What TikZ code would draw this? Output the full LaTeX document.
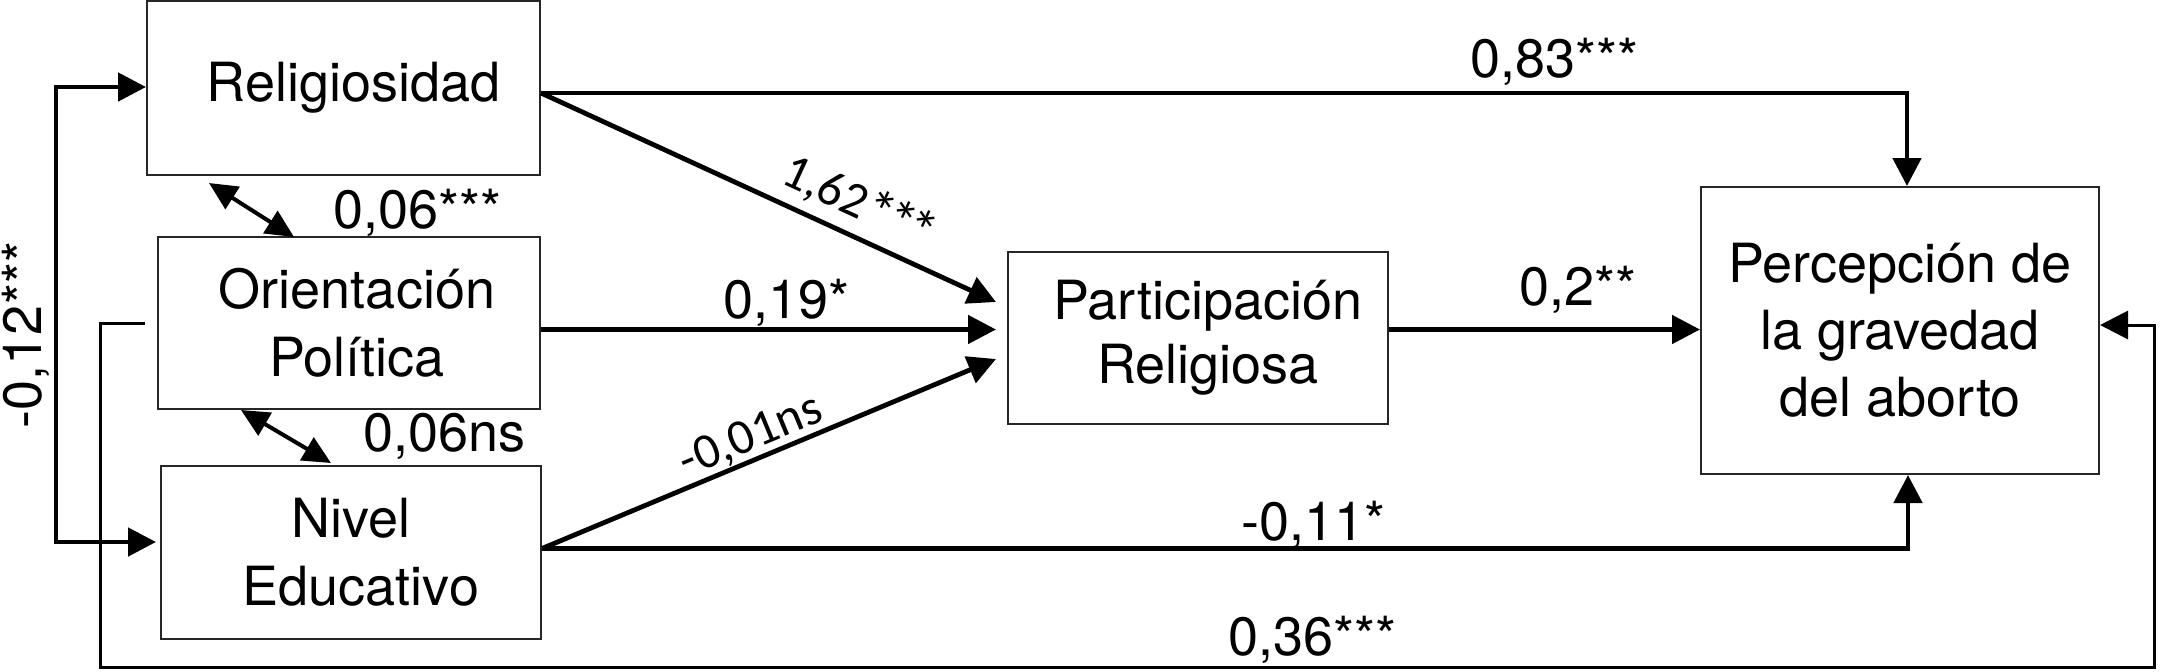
\documentclass[tikz,border=0pt]{standalone}
\usepackage{fontspec}
\setmainfont{TeX Gyre Heros}
\newfontfamily\carl{Carlito}
\usetikzlibrary{arrows.meta,calc}
\newcommand{\bigstars}{{\fontsize{29pt}{29pt}\selectfont\raisebox{-2pt}{*\kern-3pt*\kern-3pt*}}}
\begin{document}
\begin{tikzpicture}[x={(0.5pt,0)},y={(0,-0.5pt)},
  box/.style={draw=black!85,line width=1pt,inner sep=0pt,align=center,font=\fontsize{27pt}{34pt}\selectfont},
  lab/.style={inner sep=0pt,text depth=0pt,font=\fontsize{27pt}{32pt}\selectfont},
  slab/.style={inner sep=0pt,font=\carl\fontsize{25pt}{28pt}\selectfont},
  arr/.style={line width=2.4pt,-{Triangle[length=14pt,width=14pt]}},
  thin arr/.style={line width=1.5pt,-{Triangle[length=14pt,width=14pt]}},
  dbl/.style={line width=2pt,{Triangle[length=14pt,width=13pt]}-{Triangle[length=14pt,width=13pt]}}]
\useasboundingbox (0,0) rectangle (2160,671);
% boxes
\node[box,minimum width=196.5pt,minimum height=87pt] (rel) at (343.5,88) {\hspace*{10pt}Religiosidad};
\node[box,minimum width=191pt,minimum height=86pt] (op) at (349,323) {\hspace*{8pt}Orientación\\\hspace*{8pt}Política};
\node[box,minimum width=190pt,minimum height=86.5pt] (ne) at (351,552.5) {Nivel\\\hspace*{10pt}Educativo};
\node[box,minimum width=190pt,minimum height=86pt,font=\fontsize{27pt}{32pt}\selectfont] (pr) at (1198,338) {\hspace*{10pt}Participación\\\hspace*{10pt}Religiosa};
\node[box,minimum width=199pt,minimum height=143.5pt,font=\fontsize{27pt}{33.5pt}\selectfont] (pg) at (1900,330.5) {Percepción de\\la gravedad\\del aborto};
% helper coordinates
\coordinate (cl) at (56,300);
\coordinate (fb1) at (100,667);
\coordinate (fb2) at (2154,667);
% connectors
\draw[arr] ([yshift=-2.5pt]rel.east) -| ([xshift=3.5pt]pg.north);
\draw[arr] ([yshift=-2.5pt]rel.east) -- ([xshift=-5.5pt,yshift=18pt]pr.west);
\draw[arr] ([yshift=-3.25pt]op.east) -- ([xshift=-5.5pt,yshift=4.25pt]pr.west);
\draw[arr] ([yshift=2pt]ne.east) -- ([xshift=-5.5pt,yshift=-10.5pt]pr.west);
\draw[arr] ([yshift=4.25pt]pr.east) -- ([yshift=4.25pt]pr.east -| pg.west);
\draw[arr] ([yshift=2pt]ne.east) -| ([xshift=4pt]pg.south);
\draw[line width=2.4pt,{Triangle[length=14pt,width=14pt]}-{Triangle[length=14pt,width=14pt]}]
  ([yshift=0.5pt]rel.west) -| (cl) |- ([xshift=-2pt,yshift=5.25pt]ne.west);
\draw[thin arr] ([xshift=-6pt]op.west) -| (fb1) -- (fb2) |- ([yshift=2.75pt]pg.east);
\draw[dbl] (209,183) coordinate (d1) -- (294,237) coordinate (d2);
\draw[dbl] (241,410) coordinate (d3) -- (331,463) coordinate (d4);
% labels
\node[lab,anchor=base west] (l083) at (1470,77) {0,83***};
\node[lab,anchor=base west] (l006a) at (333,228) {0,06***};
\node[lab,anchor=base west] (l006b) at (363,451) {0,06ns};
\node[lab,anchor=base west] (l019) at (723,318) {0,19*};
\node[lab,anchor=base west] (l02) at (1519,305) {0,2**};
\node[lab,anchor=base west] (l011) at (1241,540) {-0,11*};
\node[lab,anchor=base west] (l036) at (1228,655) {0,36***};
\node[lab,rotate=90] (l012) at (22,335) {-0,12***};
\node[slab,rotate=-24.7] (l162) at (860,203) {1,62\bigstars};
\node[slab,rotate=22.5] (l001) at (751,437) {-0,01ns};
\end{tikzpicture}
\end{document}
